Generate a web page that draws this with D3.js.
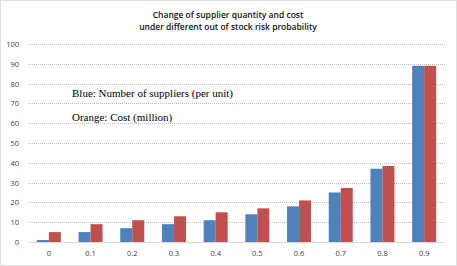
<!DOCTYPE html>
<html>
<head>
<meta charset="utf-8">
<script src="https://cdn.jsdelivr.net/npm/d3@7"></script>
<style>
  html, body { margin: 0; padding: 0; background: #fff; }
  svg { display: block; }
</style>
</head>
<body>
<div id="chart"></div>
<script>
// data
const categories = ["0", "0.1", "0.2", "0.3", "0.4", "0.5", "0.6", "0.7", "0.8", "0.9"];
const suppliers = [1, 5, 7, 9, 11, 14, 18, 25, 37, 89];
const cost = [5, 9, 11, 13, 15, 17, 21, 27.3, 38.4, 89];
const yTicks = [0, 10, 20, 30, 40, 50, 60, 70, 80, 90, 100];
const titleLines = ["Change of supplier quantity and cost", "under different out of stock risk probability"];
const notes = ["Blue: Number of suppliers (per unit)", "Orange: Cost (million)"];

const width = 457, height = 266;
const margin = {top: 44, right: 12, bottom: 24, left: 28};

const svg = d3.select("#chart").append("svg")
    .attr("width", width)
    .attr("height", height);

// dotted outer frame
svg.append("rect")
    .attr("x", 0.5).attr("y", 0.5)
    .attr("width", width - 1).attr("height", height - 1)
    .attr("fill", "#fff")
    .attr("stroke", "#bfbfbf")
    .attr("stroke-dasharray", "1,1");

const x0 = d3.scaleBand()
    .domain(categories)
    .range([margin.left, width - margin.right])
    .paddingInner(0.425)
    .paddingOuter(0.2125);

const x1 = d3.scaleBand()
    .domain(["suppliers", "cost"])
    .range([0, x0.bandwidth()]);

const y = d3.scaleLinear()
    .domain([0, 100])
    .range([height - margin.bottom, margin.top]);

// gridlines
svg.append("g")
    .selectAll("line")
    .data(yTicks.filter(d => d > 0))
    .join("line")
    .attr("x1", margin.left)
    .attr("x2", width - margin.right)
    .attr("y1", d => Math.round(y(d)) + 0.5)
    .attr("y2", d => Math.round(y(d)) + 0.5)
    .attr("stroke", "#bdbdbd")
    .attr("stroke-dasharray", "1,1");

// y labels
svg.append("g")
    .selectAll("text")
    .data(yTicks)
    .join("text")
    .attr("x", 19)
    .attr("y", d => y(d) + 3)
    .attr("text-anchor", "end")
    .attr("font-family", "Open Sans, sans-serif")
    .attr("font-size", 7.5)
    .attr("fill", "#404040")
    .text(d => d);

// bars
const rows = categories.map((c, i) => ({cat: c, suppliers: suppliers[i], cost: cost[i]}));
const colors = {suppliers: "#4f81bd", cost: "#c0504d"};

svg.append("g")
    .selectAll("g")
    .data(rows)
    .join("g")
    .attr("transform", d => `translate(${x0(d.cat)},0)`)
    .selectAll("rect")
    .data(d => ["suppliers", "cost"].map(k => ({key: k, value: d[k]})))
    .join("rect")
    .attr("x", d => x1(d.key))
    .attr("width", x1.bandwidth())
    .attr("y", d => y(d.value))
    .attr("height", d => y(0) - y(d.value))
    .attr("fill", d => colors[d.key]);

// baseline
svg.append("line")
    .attr("x1", margin.left).attr("x2", width - margin.right)
    .attr("y1", y(0) + 0.5).attr("y2", y(0) + 0.5)
    .attr("stroke", "#d9d9d9");

// x labels
svg.append("g")
    .selectAll("text")
    .data(categories)
    .join("text")
    .attr("x", d => x0(d) + x0.bandwidth() / 2)
    .attr("y", 256)
    .attr("text-anchor", "middle")
    .attr("font-family", "Open Sans, sans-serif")
    .attr("font-size", 7.5)
    .attr("fill", "#404040")
    .text(d => d);

// title
svg.append("g")
    .selectAll("text")
    .data(titleLines)
    .join("text")
    .attr("x", 228)
    .attr("y", (d, i) => 17.5 + i * 12)
    .attr("text-anchor", "middle")
    .attr("font-family", "Open Sans, sans-serif")
    .attr("font-size", 8.5)
    .attr("font-weight", 600)
    .attr("fill", "#111")
    .text(d => d);

// annotations
svg.append("g")
    .selectAll("text")
    .data(notes)
    .join("text")
    .attr("x", 72)
    .attr("y", (d, i) => 97 + i * 23.5)
    .attr("font-family", "Liberation Serif, serif")
    .attr("font-size", 11)
    .attr("fill", "#000")
    .text(d => d);
</script>
</body>
</html>
